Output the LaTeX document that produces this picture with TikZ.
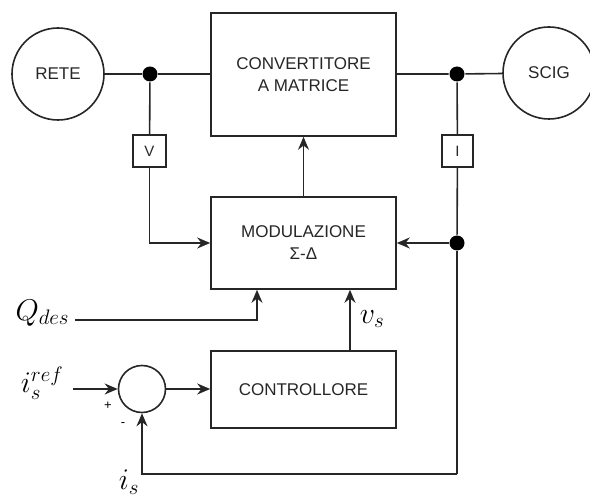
\RequirePackage{fix-cm}
\documentclass[tikz,border=0pt]{standalone}
\usepackage{fontspec}
\setmainfont{Liberation Sans}
\usetikzlibrary{arrows.meta}
\begin{document}
\begin{tikzpicture}[x=1pt,y=-1pt,
  line width=1.6pt, draw=black!85,
  blk/.style={draw, rectangle, inner sep=0pt, align=center, font=\fontsize{17}{22}\selectfont, text=black!85},
  circ/.style={draw, circle, inner sep=0pt, minimum size=92pt, font=\fontsize{17}{22}\selectfont, text=black!85},
  dot/.style={circle, fill=black, inner sep=0pt, minimum size=15pt},
  meas/.style={draw, rectangle, inner sep=0pt, font=\fontsize{15}{16}\selectfont, text=black!85},
  lbl/.style={inner sep=0pt, font=\fontsize{30}{32}\selectfont},
  arr/.style={-{Stealth[length=13pt,width=11pt]}},
  sign/.style={inner sep=0pt, font=\fontsize{13}{14}\selectfont}
]
\useasboundingbox (0,0) rectangle (590,500);
\begin{scope}
\clip (0,0) rectangle (590,500);
\node[circ] (rete) at (58,74) {RETE};
\node[circ] (scig) at (549,73) {SCIG};
\end{scope}
\node[dot] (j1) at (150,74) {};
\node[dot] (j2) at (457,74) {};
\node[dot] (j3) at (457,243) {};
\node[blk, minimum width=185pt, minimum height=123pt] (conv) at (303.5,74.5) {CONVERTITORE\\A MATRICE};
\node[blk, minimum width=185pt, minimum height=92pt] (mod) at (303.5,243) {MODULAZIONE\\Σ-Δ};
\node[blk, minimum width=185pt, minimum height=77pt] (ctrl) at (303.5,389.5) {CONTROLLORE};
\node[meas, minimum width=33pt, minimum height=32pt] (vbox) at (149.5,151) {V};
\node[meas, minimum width=31pt, minimum height=32pt] (ibox) at (457.5,151) {I};
\node[draw, circle, inner sep=0pt, minimum size=47pt] (sum) at (142,389) {};
\node[lbl, anchor=east] (qdes) at (70,313) {$Q_{des}$};
\node[lbl, anchor=east] (isref) at (64,383) {$i_s^{ref}$};
\node[lbl] (is) at (129,482) {$i_s$};
\node[lbl] (vs) at (372,319) {$v_s$};
\node[sign] (plus) at (108,406) {+};
\node[sign] (minus) at (123,425) {-};
\coordinate (qcor) at (257,320);
\coordinate (vsx) at (350,320);
\coordinate (fb) at (457,474);

\draw (rete) -- (j1) -- (j1 -| conv.west);
\draw (conv.east |- j2) -- (j2) -- (scig);
\draw (j1) -- (vbox);
\draw[arr] (vbox) |- (mod.west);
\draw (j2) -- (ibox);
\draw (ibox) -- (j3);
\draw[arr] (j3) -- (mod.east);
\draw[arr] (mod.north) -- (conv.south);
\draw (j3) -- (fb);
\draw[arr] (fb) -| (sum.south);
\draw[arr] (75,320) -- (qcor) -- (qcor |- mod.south);
\draw[arr] (vsx |- ctrl.north) -- (vsx |- mod.south);
\draw[arr] (73,389) -- (sum.west);
\draw[arr] (sum.east) -- (ctrl.west |- sum);
\end{tikzpicture}
\end{document}
